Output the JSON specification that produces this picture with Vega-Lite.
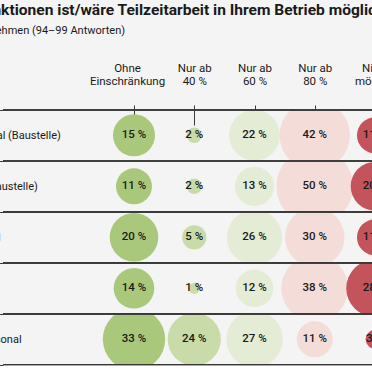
{
  "$schema": "https://vega.github.io/schema/vega-lite/v6.json",
  "background": "#f4f4f4",
  "padding": {"left": -108, "top": 3, "right": 0, "bottom": 0},
  "bounds": "flush",
  "spacing": 0,
  "title": {
    "text": "In welchen Funktionen ist/wäre Teilzeitarbeit in Ihrem Betrieb möglich?",
    "anchor": "start",
    "font": "Roboto",
    "fontSize": 15.55,
    "fontWeight": 700,
    "color": "#1a1a1a",
    "dx": 4,
    "offset": 6
  },
  "data": {
    "values": [
      {"Funktion": "Gewerbliches Personal (Baustelle)", "Antwort": "Ohne Einschränkung", "Anteil": 15},
      {"Funktion": "Gewerbliches Personal (Baustelle)", "Antwort": "Nur ab 40 %", "Anteil": 2},
      {"Funktion": "Gewerbliches Personal (Baustelle)", "Antwort": "Nur ab 60 %", "Anteil": 22},
      {"Funktion": "Gewerbliches Personal (Baustelle)", "Antwort": "Nur ab 80 %", "Anteil": 42},
      {"Funktion": "Gewerbliches Personal (Baustelle)", "Antwort": "Nicht möglich", "Anteil": 11},
      {"Funktion": "Aufsichtspersonal (Baustelle)", "Antwort": "Ohne Einschränkung", "Anteil": 11},
      {"Funktion": "Aufsichtspersonal (Baustelle)", "Antwort": "Nur ab 40 %", "Anteil": 2},
      {"Funktion": "Aufsichtspersonal (Baustelle)", "Antwort": "Nur ab 60 %", "Anteil": 13},
      {"Funktion": "Aufsichtspersonal (Baustelle)", "Antwort": "Nur ab 80 %", "Anteil": 50},
      {"Funktion": "Aufsichtspersonal (Baustelle)", "Antwort": "Nicht möglich", "Anteil": 20},
      {"Funktion": "Technisches Personal", "Antwort": "Ohne Einschränkung", "Anteil": 20},
      {"Funktion": "Technisches Personal", "Antwort": "Nur ab 40 %", "Anteil": 5},
      {"Funktion": "Technisches Personal", "Antwort": "Nur ab 60 %", "Anteil": 26},
      {"Funktion": "Technisches Personal", "Antwort": "Nur ab 80 %", "Anteil": 30},
      {"Funktion": "Technisches Personal", "Antwort": "Nicht möglich", "Anteil": 11},
      {"Funktion": "Führungskräfte", "Antwort": "Ohne Einschränkung", "Anteil": 14},
      {"Funktion": "Führungskräfte", "Antwort": "Nur ab 40 %", "Anteil": 1},
      {"Funktion": "Führungskräfte", "Antwort": "Nur ab 60 %", "Anteil": 12},
      {"Funktion": "Führungskräfte", "Antwort": "Nur ab 80 %", "Anteil": 38},
      {"Funktion": "Führungskräfte", "Antwort": "Nicht möglich", "Anteil": 28},
      {"Funktion": "Kaufmännisches Personal", "Antwort": "Ohne Einschränkung", "Anteil": 33},
      {"Funktion": "Kaufmännisches Personal", "Antwort": "Nur ab 40 %", "Anteil": 24},
      {"Funktion": "Kaufmännisches Personal", "Antwort": "Nur ab 60 %", "Anteil": 27},
      {"Funktion": "Kaufmännisches Personal", "Antwort": "Nur ab 80 %", "Anteil": 11},
      {"Funktion": "Kaufmännisches Personal", "Antwort": "Nicht möglich", "Anteil": 3}
    ]
  },
  "config": {
    "view": {"stroke": null},
    "font": "Roboto",
    "concat": {"spacing": 0},
    "facet": {"spacing": 0},
    "axisY": {
      "title": null,
      "domain": false,
      "ticks": true,
      "tickBand": "extent",
      "tickSize": 110,
      "tickColor": "#3a3a3a",
      "tickWidth": 1,
      "grid": false,
      "labelAlign": "left",
      "labelBaseline": "middle",
      "labelPadding": 0,
      "labelFont": "Roboto",
      "labelFontSize": 11,
      "labelColor": "#1a1a1a",
      "labelLimit": 400
    },
    "axisX": {
      "orient": "top",
      "title": null,
      "domain": false,
      "grid": false,
      "ticks": true,
      "tickSize": 20,
      "tickColor": "#3a3a3a",
      "tickWidth": 1,
      "offset": -15,
      "labelPadding": 32,
      "labelAngle": 0,
      "labelBaseline": "bottom",
      "labelFont": "Roboto",
      "labelFontSize": 11.5,
      "labelColor": "#1a1a1a",
      "labelLineHeight": 13,
      "labelOverlap": false,
      "labelFlush": false,
      "labelLimit": 200,
      "zindex": 2
    }
  },
  "vconcat": [
    {
      "width": 380,
      "height": 50.6,
      "title": {
        "text": "Alle befragten Unternehmen (94–99 Antworten)",
        "anchor": "start",
        "font": "Roboto",
        "fontSize": 11,
        "fontWeight": 400,
        "color": "#1a1a1a",
        "offset": 26
      },
      "transform": [
        {"filter": "datum.Funktion === 'Gewerbliches Personal (Baustelle)'"},
        {"calculate": "datum.Anteil + ' %'", "as": "Label"}
      ],
      "encoding": {
        "y": {"field": "Funktion", "type": "nominal", "scale": {"type": "band", "paddingInner": 0, "paddingOuter": 0}}
      },
      "layer": [
        {
          "mark": {"type": "circle", "opacity": 1, "clip": true},
          "encoding": {
            "x": {
              "field": "Antwort",
              "type": "nominal",
              "scale": {"type": "point", "padding": 0, "domain": ["Ohne Einschränkung", "Nur ab 40 %", "Nur ab 60 %", "Nur ab 80 %", "Nicht möglich"], "range": [131, 372]},
              "axis": {"orient": "top", "title": null, "labelOffset": {"condition": {"test": "datum.value === 'Ohne Einschränkung'", "value": -7}, "value": 0}, "labelExpr": "datum.value === 'Ohne Einschränkung' ? ['Ohne', 'Einschränkung'] : datum.value === 'Nicht möglich' ? ['Nicht', 'möglich'] : ['Nur ab', replace(datum.value, 'Nur ab ', '')]"}
            },
            "size": {"field": "Anteil", "type": "quantitative", "scale": {"domain": [0, 50], "range": [0, 5900]}, "legend": null},
            "color": {"field": "Antwort", "type": "nominal", "scale": {"domain": ["Ohne Einschränkung", "Nur ab 40 %", "Nur ab 60 %", "Nur ab 80 %", "Nicht möglich"], "range": ["#aac87b", "#c9dba9", "#e4ecd6", "#f4dcd8", "#c4545b"]}, "legend": null}
          }
        },
        {
          "mark": {"type": "rule", "color": "#3a3a3a", "strokeWidth": 1},
          "encoding": {"y": {"field": "Funktion", "type": "nominal", "bandPosition": 0}}
        },
        {
          "mark": {"type": "text", "font": "Roboto", "fontSize": 11.5, "fontWeight": 500, "color": "#1a1a1a"},
          "encoding": {
            "x": {
              "field": "Antwort",
              "type": "nominal",
              "scale": {"type": "point", "padding": 0, "domain": ["Ohne Einschränkung", "Nur ab 40 %", "Nur ab 60 %", "Nur ab 80 %", "Nicht möglich"], "range": [131, 372]},
              "axis": {"orient": "top", "title": null, "labelOffset": {"condition": {"test": "datum.value === 'Ohne Einschränkung'", "value": -7}, "value": 0}, "labelExpr": "datum.value === 'Ohne Einschränkung' ? ['Ohne', 'Einschränkung'] : datum.value === 'Nicht möglich' ? ['Nicht', 'möglich'] : ['Nur ab', replace(datum.value, 'Nur ab ', '')]"}
            },
            "text": {"field": "Label"}
          }
        }
      ]
    },
    {
      "transform": [
        {"filter": "datum.Funktion !== 'Gewerbliches Personal (Baustelle)'"},
        {"calculate": "datum.Anteil + ' %'", "as": "Label"}
      ],
      "facet": {
        "row": {"field": "Funktion", "type": "nominal", "sort": ["Aufsichtspersonal (Baustelle)", "Technisches Personal", "Führungskräfte", "Kaufmännisches Personal"], "header": {"labels": false, "title": null}}
      },
      "spacing": 0,
      "bounds": "flush",
      "resolve": {"scale": {"y": "independent"}},
      "spec": {
        "width": 380,
        "height": 50.6,
        "encoding": {
          "y": {"field": "Funktion", "type": "nominal", "scale": {"type": "band", "paddingInner": 0, "paddingOuter": 0}}
        },
        "layer": [
          {
            "mark": {"type": "circle", "opacity": 1, "clip": true},
            "encoding": {
              "x": {
                "field": "Antwort",
                "type": "nominal",
                "scale": {"type": "point", "padding": 0, "domain": ["Ohne Einschränkung", "Nur ab 40 %", "Nur ab 60 %", "Nur ab 80 %", "Nicht möglich"], "range": [131, 372]},
                "axis": null
              },
              "size": {"field": "Anteil", "type": "quantitative", "scale": {"domain": [0, 50], "range": [0, 5900]}, "legend": null},
              "color": {"field": "Antwort", "type": "nominal", "scale": {"domain": ["Ohne Einschränkung", "Nur ab 40 %", "Nur ab 60 %", "Nur ab 80 %", "Nicht möglich"], "range": ["#aac87b", "#c9dba9", "#e4ecd6", "#f4dcd8", "#c4545b"]}, "legend": null}
            }
          },
          {
            "mark": {"type": "rule", "color": "#3a3a3a", "strokeWidth": 1},
            "encoding": {"y": {"field": "Funktion", "type": "nominal", "bandPosition": 0}}
          },
          {
            "mark": {"type": "rule", "color": "#3a3a3a", "strokeWidth": 1},
            "encoding": {"y": {"field": "Funktion", "type": "nominal", "bandPosition": 1}}
          },
          {
            "mark": {"type": "text", "font": "Roboto", "fontSize": 11.5, "fontWeight": 500, "color": "#1a1a1a"},
            "encoding": {
              "x": {
                "field": "Antwort",
                "type": "nominal",
                "scale": {"type": "point", "padding": 0, "domain": ["Ohne Einschränkung", "Nur ab 40 %", "Nur ab 60 %", "Nur ab 80 %", "Nicht möglich"], "range": [131, 372]},
                "axis": null
              },
              "text": {"field": "Label"}
            }
          }
        ]
      }
    }
  ]
}
